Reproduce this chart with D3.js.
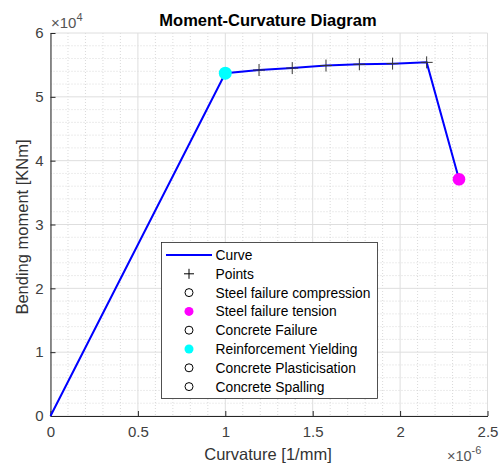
<!DOCTYPE html>
<html><head><meta charset="utf-8">
<script src="https://cdn.jsdelivr.net/npm/d3@7"></script>
<style>
body{margin:0;background:#fff;}
text{font-family:"Liberation Sans",Arial,Helvetica,sans-serif;}
</style></head>
<body><svg id="c" width="500" height="466"></svg>
<script>
// data (curvature in 1e-6 1/mm, moment in 1e4 KNm)
const curvature = [0, 1.0, 1.193, 1.383, 1.576, 1.767, 1.957, 2.152, 2.337];
const moment    = [0, 5.37, 5.42, 5.45, 5.49, 5.51, 5.52, 5.54, 3.71];
const pointIdx  = [1, 2, 3, 4, 5, 6, 7, 8];
const yieldPt   = {x: 1.0, y: 5.37};
const tensionPt = {x: 2.337, y: 3.71};
const xTicks = [0, 0.5, 1, 1.5, 2, 2.5];
const yTicks = [0, 1, 2, 3, 4, 5, 6];
const xTickLabels = ["0", "0.5", "1", "1.5", "2", "2.5"];
const yTickLabels = ["0", "1", "2", "3", "4", "5", "6"];
const legendLabels = ["Curve", "Points", "Steel failure compression", "Steel failure tension",
  "Concrete Failure", "Reinforcement Yielding", "Concrete Plasticisation", "Concrete Spalling"];
const legendTypes = ["line", "plus", "open", "magenta", "open", "cyan", "open", "open"];

const svg = d3.select("#c");
const L = 50.5, R = 487.5, T = 33, B = 416;
const x = d3.scaleLinear().domain([0, 2.5]).range([L, R]);
const y = d3.scaleLinear().domain([0, 6]).range([B, T]);

const g = svg.append("g");
// minor grid
const xMinor = d3.range(0, 2.5001, 0.1).filter(v => Math.abs(v*2 - Math.round(v*2)) > 1e-6);
const yMinor = d3.range(0, 6.0001, 0.2).filter(v => Math.abs(v - Math.round(v)) > 1e-6);
g.selectAll(".xm").data(xMinor).enter().append("line")
  .attr("x1", d => x(d)).attr("x2", d => x(d)).attr("y1", T).attr("y2", B)
  .attr("stroke", "#d0d0d0").attr("stroke-width", 0.8).attr("stroke-dasharray", "1,2");
g.selectAll(".ym").data(yMinor).enter().append("line")
  .attr("y1", d => y(d)).attr("y2", d => y(d)).attr("x1", L).attr("x2", R)
  .attr("stroke", "#d0d0d0").attr("stroke-width", 0.8).attr("stroke-dasharray", "1,2");
// major grid
g.selectAll(".xg").data(xTicks).enter().append("line")
  .attr("x1", d => x(d)).attr("x2", d => x(d)).attr("y1", T).attr("y2", B)
  .attr("stroke", "#dedede").attr("stroke-width", 1);
g.selectAll(".yg").data(yTicks).enter().append("line")
  .attr("y1", d => y(d)).attr("y2", d => y(d)).attr("x1", L).attr("x2", R)
  .attr("stroke", "#dedede").attr("stroke-width", 1);

// axes
const xAxis = d3.axisBottom(x).tickValues(xTicks).tickFormat((d, i) => xTickLabels[i]).tickSizeInner(-5).tickSizeOuter(0).tickPadding(10);
const yAxis = d3.axisLeft(y).tickValues(yTicks).tickFormat((d, i) => yTickLabels[i]).tickSizeInner(-5).tickSizeOuter(0).tickPadding(7);
const gx = svg.append("g").attr("transform", `translate(0,${B})`).call(xAxis);
const gy = svg.append("g").attr("transform", `translate(${L},0)`).call(yAxis);
[gx, gy].forEach(a => {
  a.select(".domain").attr("stroke", "#262626").attr("stroke-width", 1);
  a.selectAll(".tick line").attr("stroke", "#262626");
  a.selectAll(".tick text").attr("fill", "#404040").attr("font-size", 15)
    .attr("font-family", "'Liberation Sans',Arial,sans-serif");
});

// curve
const line = d3.line().x((d, i) => x(curvature[i])).y((d, i) => y(moment[i]));
svg.append("path").datum(moment).attr("d", line)
  .attr("fill", "none").attr("stroke", "#0000ff").attr("stroke-width", 2);
// plus markers
const pg = svg.append("g");
pointIdx.forEach(i => {
  const cx = x(curvature[i]), cy = y(moment[i]);
  pg.append("path").attr("d", `M${cx-6},${cy}H${cx+6}M${cx},${cy-6}V${cy+6}`)
    .attr("stroke", "#333").attr("stroke-width", 1);
});
svg.append("circle").attr("cx", x(yieldPt.x)).attr("cy", y(yieldPt.y)).attr("r", 6.5).attr("fill", "#00ffff");
svg.append("circle").attr("cx", x(tensionPt.x)).attr("cy", y(tensionPt.y)).attr("r", 6.3).attr("fill", "#ff00ff");

// title & labels
svg.append("text").attr("x", 268).attr("y", 26).attr("text-anchor", "middle")
  .attr("font-weight", "bold").attr("font-size", 16.5).attr("fill", "#000").text("Moment-Curvature Diagram");
svg.append("text").attr("x", 268).attr("y", 460).attr("text-anchor", "middle")
  .attr("font-size", 16.5).attr("fill", "#333").text("Curvature [1/mm]");
svg.append("text").attr("transform", "translate(28,227) rotate(-90)").attr("text-anchor", "middle")
  .attr("font-size", 16.5).attr("fill", "#333").text("Bending moment [KNm]");
// exponents
const e1 = svg.append("text").attr("x", 51).attr("y", 28).attr("font-size", 15).attr("fill", "#555");
e1.append("tspan").text("\u00d710");
e1.append("tspan").attr("dy", -7).attr("font-size", 11).text("4");
const e2 = svg.append("text").attr("x", 447).attr("y", 461).attr("font-size", 14.5).attr("fill", "#555");
e2.append("tspan").text("\u00d710");
e2.append("tspan").attr("dy", -7).attr("font-size", 11).text("-6");

// legend
const lg = svg.append("g");
lg.append("rect").attr("x", 161.5).attr("y", 242.5).attr("width", 216).attr("height", 156)
  .attr("fill", "#fff").attr("stroke", "#262626").attr("stroke-width", 0.8);
legendLabels.forEach((lab, i) => {
  const cy = 255 + i * 18.8;
  const t = legendTypes[i];
  if (t === "line") lg.append("line").attr("x1", 166).attr("x2", 212).attr("y1", cy).attr("y2", cy)
    .attr("stroke", "#0000ff").attr("stroke-width", 2);
  else if (t === "plus") lg.append("path").attr("d", `M${189-5},${cy}H${189+5}M189,${cy-5}V${cy+5}`)
    .attr("stroke", "#000").attr("stroke-width", 1);
  else if (t === "open") lg.append("circle").attr("cx", 189).attr("cy", cy).attr("r", 4)
    .attr("fill", "none").attr("stroke", "#000").attr("stroke-width", 1);
  else lg.append("circle").attr("cx", 189).attr("cy", cy).attr("r", 4.5)
    .attr("fill", t === "magenta" ? "#ff00ff" : "#00ffff");
  lg.append("text").attr("x", 215.5).attr("y", cy + 5).attr("font-size", 13.8).attr("fill", "#000").text(lab);
});
</script></body></html>
